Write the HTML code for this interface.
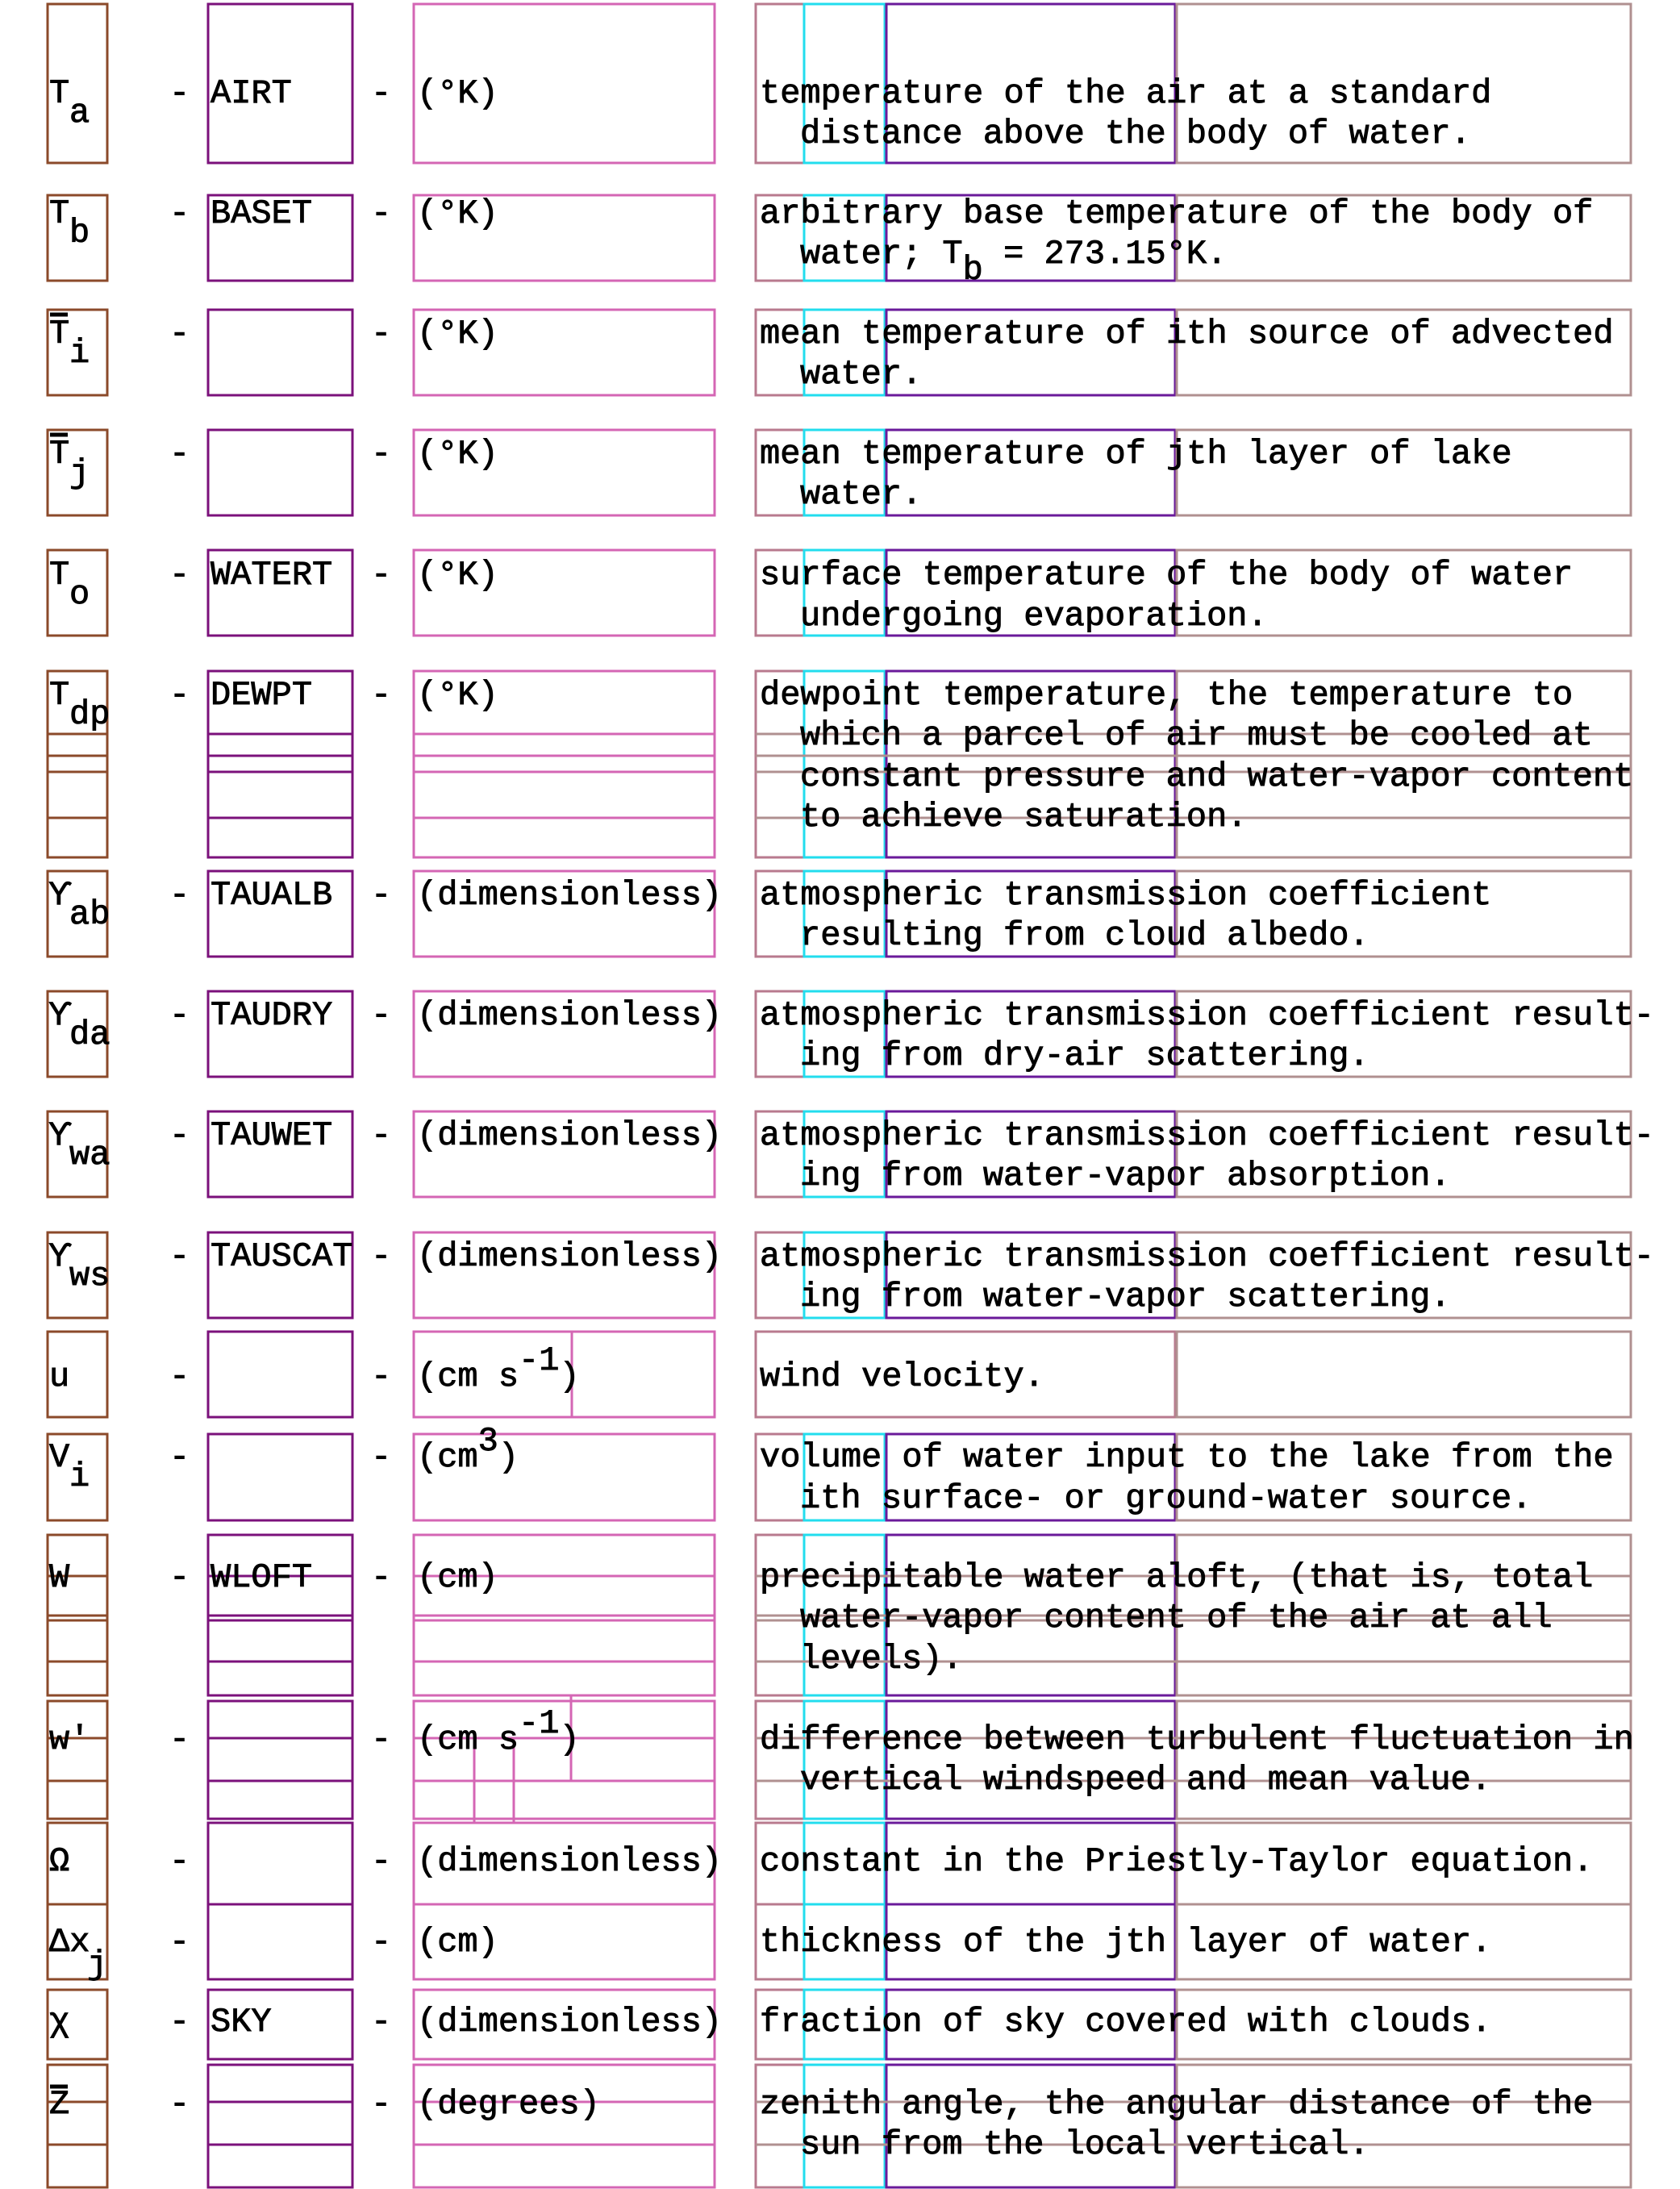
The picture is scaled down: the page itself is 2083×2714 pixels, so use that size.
<!DOCTYPE html>
<html><head><meta charset="utf-8"><style>
html,body{margin:0;padding:0;background:#fff}
svg{display:block}
text{font-family:"Liberation Mono","DejaVu Sans Mono",monospace;font-size:42px;fill:#000;stroke:#000;stroke-width:0.9}
rect,path{fill:none;stroke-width:3}
.a{stroke:#8b4a2a}.b{stroke:#7b117b}.c{stroke:#d466b4}.d{stroke:#b87a8e}.e{stroke:#22ddee}.f{stroke:#6a1a9a}.g{stroke:#b09090}
.k{stroke:#000;stroke-width:5}
</style></head><body>
<svg width="2083" height="2714" viewBox="0 0 2083 2714" xmlns="http://www.w3.org/2000/svg">
<g>
<!-- R1 -->
<rect class="a" x="59" y="5" width="74" height="197"/><rect class="b" x="258" y="5" width="179" height="197"/><rect class="c" x="513" y="5" width="373" height="197"/><rect class="d" x="937" y="5" width="60" height="197"/><rect class="e" x="997" y="5" width="100" height="197"/><rect class="f" x="1099" y="5" width="358" height="197"/><rect class="g" x="1459" y="5" width="563" height="197"/>
<!-- R2 -->
<rect class="a" x="59" y="242" width="74" height="106"/><rect class="b" x="258" y="242" width="179" height="106"/><rect class="c" x="513" y="242" width="373" height="106"/><rect class="d" x="937" y="242" width="60" height="106"/><rect class="e" x="997" y="242" width="100" height="106"/><rect class="f" x="1099" y="242" width="358" height="106"/><rect class="g" x="1459" y="242" width="563" height="106"/>
<!-- R3 -->
<rect class="a" x="59" y="384" width="74" height="106"/><rect class="b" x="258" y="384" width="179" height="106"/><rect class="c" x="513" y="384" width="373" height="106"/><rect class="d" x="937" y="384" width="60" height="106"/><rect class="e" x="997" y="384" width="100" height="106"/><rect class="f" x="1099" y="384" width="358" height="106"/><rect class="g" x="1459" y="384" width="563" height="106"/>
<!-- R4 -->
<rect class="a" x="59" y="533" width="74" height="106"/><rect class="b" x="258" y="533" width="179" height="106"/><rect class="c" x="513" y="533" width="373" height="106"/><rect class="d" x="937" y="533" width="60" height="106"/><rect class="e" x="997" y="533" width="100" height="106"/><rect class="f" x="1099" y="533" width="358" height="106"/><rect class="g" x="1459" y="533" width="563" height="106"/>
<!-- R5 -->
<rect class="a" x="59" y="682" width="74" height="106"/><rect class="b" x="258" y="682" width="179" height="106"/><rect class="c" x="513" y="682" width="373" height="106"/><rect class="d" x="937" y="682" width="60" height="106"/><rect class="e" x="997" y="682" width="100" height="106"/><rect class="f" x="1099" y="682" width="358" height="106"/><rect class="g" x="1459" y="682" width="563" height="106"/>
<!-- R6 -->
<rect class="a" x="59" y="832" width="74" height="231"/><rect class="b" x="258" y="832" width="179" height="231"/><rect class="c" x="513" y="832" width="373" height="231"/><rect class="d" x="937" y="832" width="60" height="231"/><rect class="e" x="997" y="832" width="100" height="231"/><rect class="f" x="1099" y="832" width="358" height="231"/><rect class="g" x="1459" y="832" width="563" height="231"/>
<path class="a" d="M59 910H133M59 937H133M59 957H133M59 1014H133"/>
<path class="b" d="M258 910H437M258 937H437M258 957H437M258 1014H437"/>
<path class="c" d="M513 910H886M513 937H886M513 957H886M513 1014H886"/>
<path class="g" d="M937 910H2022M937 937H2022M937 957H2022M937 1014H2022"/>
<!-- R7 -->
<rect class="a" x="59" y="1080" width="74" height="106"/><rect class="b" x="258" y="1080" width="179" height="106"/><rect class="c" x="513" y="1080" width="373" height="106"/><rect class="d" x="937" y="1080" width="60" height="106"/><rect class="e" x="997" y="1080" width="100" height="106"/><rect class="f" x="1099" y="1080" width="358" height="106"/><rect class="g" x="1459" y="1080" width="563" height="106"/>
<!-- R8 -->
<rect class="a" x="59" y="1229" width="74" height="106"/><rect class="b" x="258" y="1229" width="179" height="106"/><rect class="c" x="513" y="1229" width="373" height="106"/><rect class="d" x="937" y="1229" width="60" height="106"/><rect class="e" x="997" y="1229" width="100" height="106"/><rect class="f" x="1099" y="1229" width="358" height="106"/><rect class="g" x="1459" y="1229" width="563" height="106"/>
<!-- R9 -->
<rect class="a" x="59" y="1378" width="74" height="106"/><rect class="b" x="258" y="1378" width="179" height="106"/><rect class="c" x="513" y="1378" width="373" height="106"/><rect class="d" x="937" y="1378" width="60" height="106"/><rect class="e" x="997" y="1378" width="100" height="106"/><rect class="f" x="1099" y="1378" width="358" height="106"/><rect class="g" x="1459" y="1378" width="563" height="106"/>
<!-- R10 -->
<rect class="a" x="59" y="1528" width="74" height="106"/><rect class="b" x="258" y="1528" width="179" height="106"/><rect class="c" x="513" y="1528" width="373" height="106"/><rect class="d" x="937" y="1528" width="60" height="106"/><rect class="e" x="997" y="1528" width="100" height="106"/><rect class="f" x="1099" y="1528" width="358" height="106"/><rect class="g" x="1459" y="1528" width="563" height="106"/>
<!-- R11 -->
<rect class="a" x="59" y="1651" width="74" height="106"/><rect class="b" x="258" y="1651" width="179" height="106"/><rect class="c" x="513" y="1651" width="373" height="106"/><path class="c" d="M709 1651V1757"/><rect class="d" x="937" y="1651" width="520" height="106"/><rect class="g" x="1459" y="1651" width="563" height="106"/>
<!-- R12 -->
<rect class="a" x="59" y="1778" width="74" height="107"/><rect class="b" x="258" y="1778" width="179" height="107"/><rect class="c" x="513" y="1778" width="373" height="107"/><rect class="d" x="937" y="1778" width="60" height="107"/><rect class="e" x="997" y="1778" width="100" height="107"/><rect class="f" x="1099" y="1778" width="358" height="107"/><rect class="g" x="1459" y="1778" width="563" height="107"/>
<!-- R13 -->
<rect class="a" x="59" y="1903" width="74" height="199"/><rect class="b" x="258" y="1903" width="179" height="199"/><rect class="c" x="513" y="1903" width="373" height="199"/><rect class="d" x="937" y="1903" width="60" height="199"/><rect class="e" x="997" y="1903" width="100" height="199"/><rect class="f" x="1099" y="1903" width="358" height="199"/><rect class="g" x="1459" y="1903" width="563" height="199"/>
<path class="a" d="M59 1954H133M59 2003H133M59 2009H133M59 2060H133"/>
<path class="b" d="M258 1954H437M258 2003H437M258 2009H437M258 2060H437"/>
<path class="c" d="M513 1954H886M513 2003H886M513 2009H886M513 2060H886"/>
<path class="g" d="M937 1954H2022M937 2003H2022M937 2009H2022M937 2060H2022"/>
<!-- R14 -->
<rect class="a" x="59" y="2109" width="74" height="146"/><rect class="b" x="258" y="2109" width="179" height="146"/><rect class="c" x="513" y="2109" width="373" height="146"/><rect class="d" x="937" y="2109" width="60" height="146"/><rect class="e" x="997" y="2109" width="100" height="146"/><rect class="f" x="1099" y="2109" width="358" height="146"/><rect class="g" x="1459" y="2109" width="563" height="146"/>
<path class="a" d="M59 2155H133M59 2208H133"/>
<path class="b" d="M258 2155H437M258 2208H437"/>
<path class="c" d="M513 2155H886M513 2208H886M588 2155V2260M637 2155V2260M708 2102V2208"/>
<path class="g" d="M937 2155H2022M937 2208H2022"/>
<!-- R15 -->
<rect class="a" x="59" y="2260" width="74" height="101"/><rect class="b" x="258" y="2260" width="179" height="101"/><rect class="c" x="513" y="2260" width="373" height="101"/><rect class="d" x="937" y="2260" width="60" height="101"/><rect class="e" x="997" y="2260" width="100" height="101"/><rect class="f" x="1099" y="2260" width="358" height="101"/><rect class="g" x="1459" y="2260" width="563" height="101"/>
<!-- R16 -->
<rect class="a" x="59" y="2361" width="74" height="93"/><rect class="b" x="258" y="2361" width="179" height="93"/><rect class="c" x="513" y="2361" width="373" height="93"/><rect class="d" x="937" y="2361" width="60" height="93"/><rect class="e" x="997" y="2361" width="100" height="93"/><rect class="f" x="1099" y="2361" width="358" height="93"/><rect class="g" x="1459" y="2361" width="563" height="93"/>
<!-- R17 -->
<rect class="a" x="59" y="2467" width="74" height="86"/><rect class="b" x="258" y="2467" width="179" height="86"/><rect class="c" x="513" y="2467" width="373" height="86"/><rect class="d" x="937" y="2467" width="60" height="86"/><rect class="e" x="997" y="2467" width="100" height="86"/><rect class="f" x="1099" y="2467" width="358" height="86"/><rect class="g" x="1459" y="2467" width="563" height="86"/>
<!-- R18 -->
<rect class="a" x="59" y="2560" width="74" height="152"/><rect class="b" x="258" y="2560" width="179" height="152"/><rect class="c" x="513" y="2560" width="373" height="152"/><rect class="d" x="937" y="2560" width="60" height="152"/><rect class="e" x="997" y="2560" width="100" height="152"/><rect class="f" x="1099" y="2560" width="358" height="152"/><rect class="g" x="1459" y="2560" width="563" height="152"/>
<path class="a" d="M59 2606H133M59 2659H133"/>
<path class="b" d="M258 2606H437M258 2659H437"/>
<path class="c" d="M513 2606H886M513 2659H886"/>
<path class="g" d="M937 2606H2022M937 2659H2022"/>
</g>

<!-- overbars -->
<path class="k" d="M62 390H84M62 539H84M62 2587H84"/>

<!-- symbols -->
<g>
<text x="61" y="127">T</text><text x="86" y="151">a</text>
<text x="61" y="276">T</text><text x="86" y="300">b</text>
<text x="61" y="425">T</text><text x="86" y="449">i</text>
<text x="61" y="574">T</text><text x="86" y="598">j</text>
<text x="61" y="724">T</text><text x="86" y="748">o</text>
<text x="61" y="873">T</text><text x="86" y="897">dp</text>
<text x="61" y="1121">ϒ</text><text x="86" y="1145">ab</text>
<text x="61" y="1270">ϒ</text><text x="86" y="1294">da</text>
<text x="61" y="1419">ϒ</text><text x="86" y="1443">wa</text>
<text x="61" y="1569">ϒ</text><text x="86" y="1593">ws</text>
<text x="61" y="1718">u</text>
<text x="61" y="1818">V</text><text x="86" y="1842">i</text>
<text x="61" y="1967">W</text>
<text x="61" y="2168">w'</text>
<text x="61" y="2319">Ω</text>
<text x="61" y="2419">Δx</text><text x="108" y="2447">j</text>
<text x="61" y="2518">χ</text>
<text x="61" y="2620">Z</text>
</g>
<!-- dashes -->
<g>
<text x="210" y="127">-</text><text x="460" y="127">-</text>
<text x="210" y="276">-</text><text x="460" y="276">-</text>
<text x="210" y="425">-</text><text x="460" y="425">-</text>
<text x="210" y="574">-</text><text x="460" y="574">-</text>
<text x="210" y="724">-</text><text x="460" y="724">-</text>
<text x="210" y="873">-</text><text x="460" y="873">-</text>
<text x="210" y="1121">-</text><text x="460" y="1121">-</text>
<text x="210" y="1270">-</text><text x="460" y="1270">-</text>
<text x="210" y="1419">-</text><text x="460" y="1419">-</text>
<text x="210" y="1569">-</text><text x="460" y="1569">-</text>
<text x="210" y="1718">-</text><text x="460" y="1718">-</text>
<text x="210" y="1818">-</text><text x="460" y="1818">-</text>
<text x="210" y="1967">-</text><text x="460" y="1967">-</text>
<text x="210" y="2168">-</text><text x="460" y="2168">-</text>
<text x="210" y="2319">-</text><text x="460" y="2319">-</text>
<text x="210" y="2419">-</text><text x="460" y="2419">-</text>
<text x="210" y="2518">-</text><text x="460" y="2518">-</text>
<text x="210" y="2620">-</text><text x="460" y="2620">-</text>
</g>
<!-- names -->
<g>
<text x="261" y="127">AIRT</text>
<text x="261" y="276">BASET</text>
<text x="261" y="724">WATERT</text>
<text x="261" y="873">DEWPT</text>
<text x="261" y="1121">TAUALB</text>
<text x="261" y="1270">TAUDRY</text>
<text x="261" y="1419">TAUWET</text>
<text x="261" y="1569">TAUSCAT</text>
<text x="261" y="1967">WLOFT</text>
<text x="261" y="2518">SKY</text>
</g>
<!-- units -->
<g>
<text x="517" y="127">(°K)</text>
<text x="517" y="276">(°K)</text>
<text x="517" y="425">(°K)</text>
<text x="517" y="574">(°K)</text>
<text x="517" y="724">(°K)</text>
<text x="517" y="873">(°K)</text>
<text x="517" y="1121">(dimensionless)</text>
<text x="517" y="1270">(dimensionless)</text>
<text x="517" y="1419">(dimensionless)</text>
<text x="517" y="1569">(dimensionless)</text>
<text x="517" y="1718">(cm s<tspan dy="-20">-1</tspan><tspan dy="20">)</tspan></text>
<text x="517" y="1818">(cm<tspan dy="-20">3</tspan><tspan dy="20">)</tspan></text>
<text x="517" y="1967">(cm)</text>
<text x="517" y="2168">(cm s<tspan dy="-20">-1</tspan><tspan dy="20">)</tspan></text>
<text x="517" y="2319">(dimensionless)</text>
<text x="517" y="2419">(cm)</text>
<text x="517" y="2518">(dimensionless)</text>
<text x="517" y="2620">(degrees)</text>
</g>
<!-- descriptions -->
<g>
<text x="942" y="127">temperature of the air at a standard</text>
<text x="992" y="177">distance above the body of water.</text>
<text x="942" y="276">arbitrary base temperature of the body of</text>
<text x="992" y="326">water; T<tspan dy="20">b</tspan><tspan dy="-20"> = 273.15°K.</tspan></text>
<text x="942" y="425">mean temperature of ith source of advected</text>
<text x="992" y="475">water.</text>
<text x="942" y="574">mean temperature of jth layer of lake</text>
<text x="992" y="624">water.</text>
<text x="942" y="724">surface temperature of the body of water</text>
<text x="992" y="775">undergoing evaporation.</text>
<text x="942" y="873">dewpoint temperature, the temperature to</text>
<text x="992" y="923">which a parcel of air must be cooled at</text>
<text x="992" y="974">constant pressure and water-vapor content</text>
<text x="992" y="1024">to achieve saturation.</text>
<text x="942" y="1121">atmospheric transmission coefficient</text>
<text x="992" y="1171">resulting from cloud albedo.</text>
<text x="942" y="1270">atmospheric transmission coefficient result-</text>
<text x="992" y="1320">ing from dry-air scattering.</text>
<text x="942" y="1419">atmospheric transmission coefficient result-</text>
<text x="992" y="1469">ing from water-vapor absorption.</text>
<text x="942" y="1569">atmospheric transmission coefficient result-</text>
<text x="992" y="1619">ing from water-vapor scattering.</text>
<text x="942" y="1718">wind velocity.</text>
<text x="942" y="1818">volume of water input to the lake from the</text>
<text x="992" y="1869">ith surface- or ground-water source.</text>
<text x="942" y="1967">precipitable water aloft, (that is, total</text>
<text x="992" y="2017">water-vapor content of the air at all</text>
<text x="992" y="2068">levels).</text>
<text x="942" y="2168">difference between turbulent fluctuation in</text>
<text x="992" y="2218">vertical windspeed and mean value.</text>
<text x="942" y="2319">constant in the Priestly-Taylor equation.</text>
<text x="942" y="2419">thickness of the jth layer of water.</text>
<text x="942" y="2518">fraction of sky covered with clouds.</text>
<text x="942" y="2620">zenith angle, the angular distance of the</text>
<text x="992" y="2670">sun from the local vertical.</text>
</g>
</svg>
</body></html>
